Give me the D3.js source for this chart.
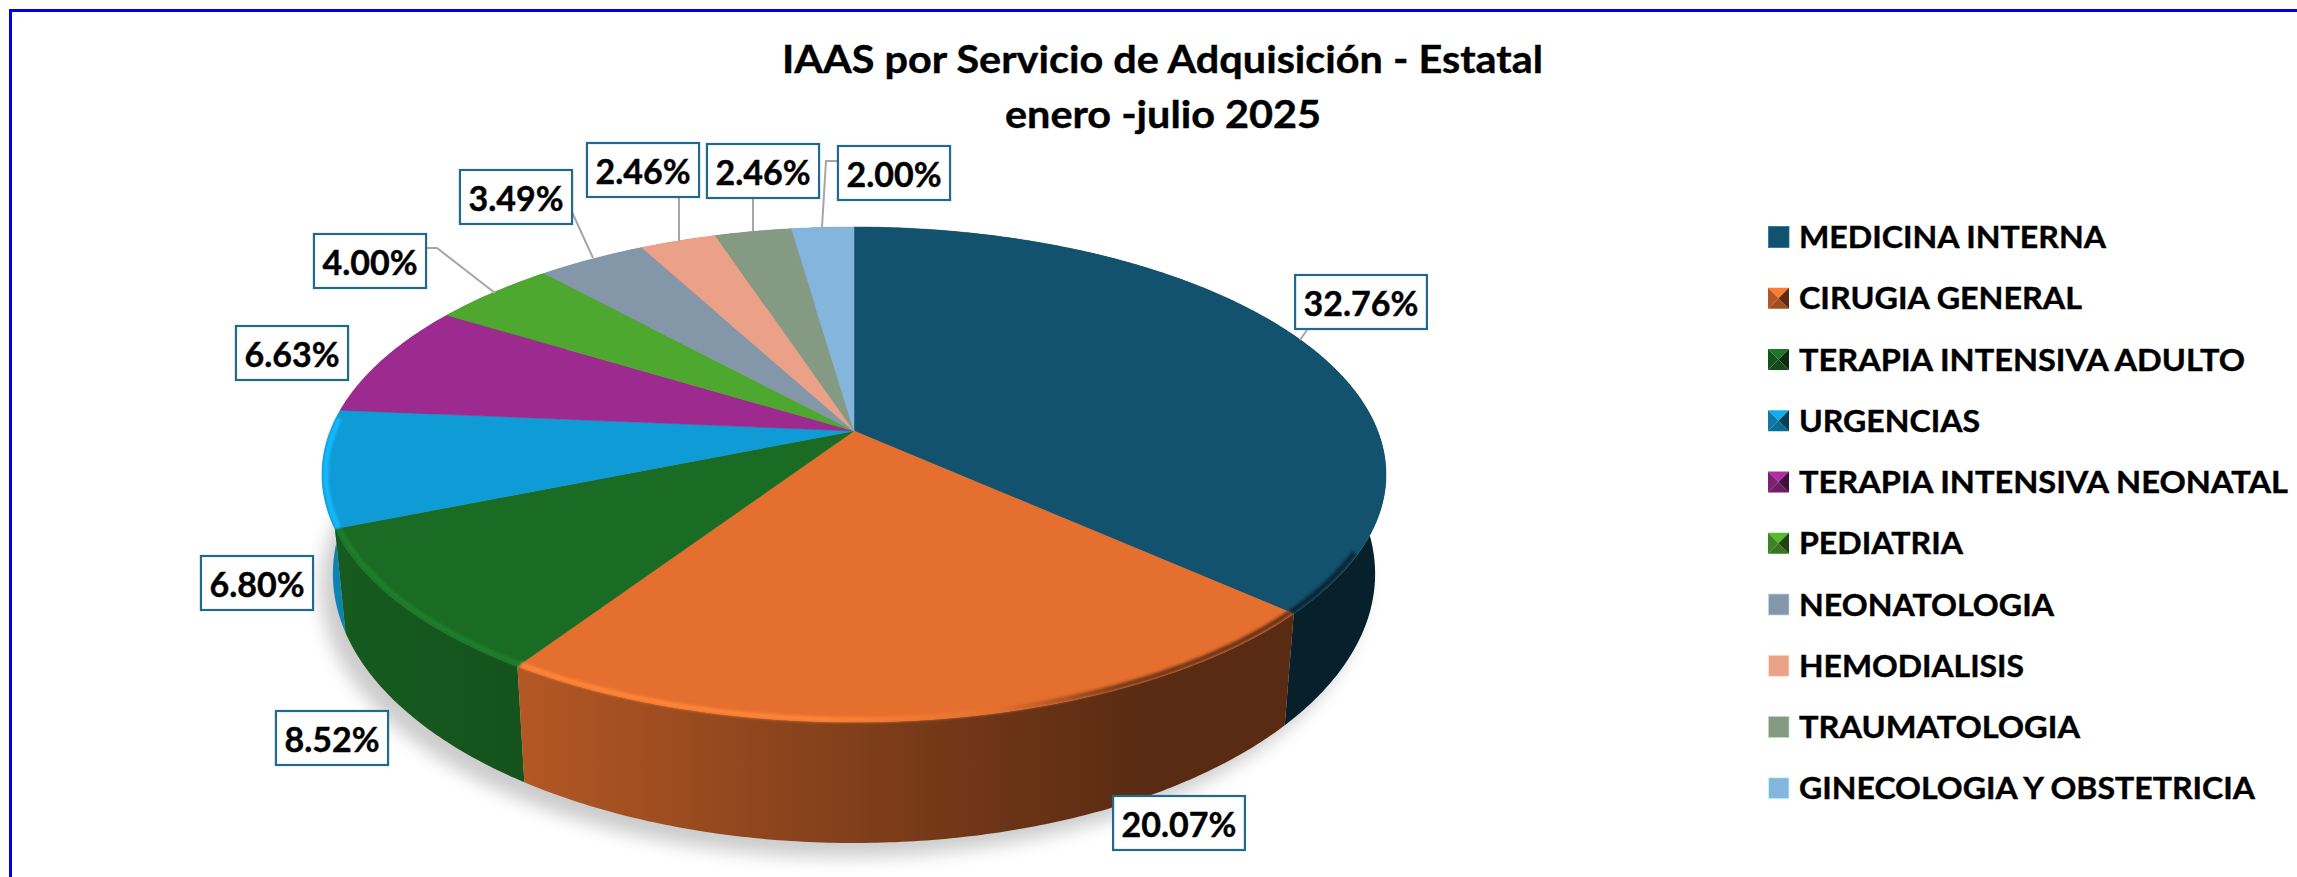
<!DOCTYPE html>
<html lang="es">
<head>
<meta charset="utf-8">
<title>IAAS por Servicio de Adquisición</title>
<script src="https://cdn.jsdelivr.net/npm/d3@7"></script>
<style>
  html, body { margin: 0; padding: 0; background: #fff; }
  svg { display: block; }
  text { font-family: "Lato", "Open Sans", sans-serif; font-weight: 700; fill: #000; stroke: #000; stroke-width: 0.4; }
</style>
</head>
<body>
<div id="chart"></div>
<script>
(function () {
  "use strict";

  const categories = [
    "MEDICINA INTERNA", "CIRUGIA GENERAL", "TERAPIA INTENSIVA ADULTO", "URGENCIAS",
    "TERAPIA INTENSIVA NEONATAL", "PEDIATRIA", "NEONATOLOGIA", "HEMODIALISIS",
    "TRAUMATOLOGIA", "GINECOLOGIA Y OBSTETRICIA"
  ];
  const values = [32.76, 20.07, 8.52, 6.80, 6.63, 4.00, 3.49, 2.46, 2.46, 2.00];
  const colors = [
    "#12526F", "#E56F2E", "#1A6B24", "#0F9BD5", "#9D2A8F",
    "#4EA72E", "#8497A8", "#EBA088", "#859A82", "#84B5DD"
  ];
  const titleLines = ["IAAS por Servicio de Adquisición - Estatal", "enero -julio 2025"];

  // Hand placed label boxes and leader lines, same order as the values
  const labelCenters = [
    [1361, 302], [1179, 823], [332, 738], [257, 583], [292, 353],
    [370, 261], [516, 197], [643, 170], [763, 171], [894, 173]
  ];
  const leaders = [
    [[1307, 330], [1300, 340]], null, null, null, null,
    [[425, 248], [437, 248], [495, 293]],
    [[572, 212], [593, 258]],
    [[679, 198], [679, 241]],
    [[753, 199], [753, 231]],
    [[839, 161], [826, 161], [822, 227]]
  ];
  const bevelledLegend = [1, 2, 3, 4, 5];
  const legendWidths = [307, 283, 446, 181, 489, 164, 255, 225, 281, 456];
  const titleWidths = [761, 316];

  const WIDTH = 2297;
  const HEIGHT = 877;
  const CENTER_X = 854;
  const PERSPECTIVE = 0.1758;
  const TOP_RING = { c: 523.7, a: 164.1, b: 431 };
  const BOTTOM_RING = { c: 513, a: 168.3, b: 526.5 };
  const LEGEND = { x: 1768, textX: 1799, y: 237, step: 61.25, size: 21 };

  // Circle seen in perspective: the centre sits above the middle of the ellipse
  function project(angle, radius, ring) {
    const u = radius * Math.sin(angle);
    const v = -radius * Math.cos(angle);
    const d = 1 - PERSPECTIVE * v;
    return [CENTER_X + ring.c * u / d, (ring.a * v + ring.b) / d];
  }

  function arcPoints(start, end, ring, radius = 1) {
    const steps = Math.max(2, Math.ceil((end - start) / 0.01));
    return d3.range(steps + 1).map(i => project(start + (end - start) * i / steps, radius, ring));
  }

  function scaled(color, k) {
    const c = d3.rgb(color);
    return d3.rgb(c.r * k, c.g * k, c.b * k).formatHex();
  }

  const svg = d3.select("#chart").append("svg")
    .attr("width", WIDTH)
    .attr("height", HEIGHT)
    .attr("viewBox", `0 0 ${WIDTH} ${HEIGHT}`);

  const defs = svg.append("defs");
  const line = d3.line();
  const slices = d3.pie().value(d => d).sort(null)(values);

  const softShadow = defs.append("filter").attr("id", "soft-shadow")
    .attr("x", "-10%").attr("y", "-10%").attr("width", "120%").attr("height", "130%");
  softShadow.append("feGaussianBlur").attr("stdDeviation", 9);
  const softRim = defs.append("filter").attr("id", "soft-rim")
    .attr("filterUnits", "userSpaceOnUse")
    .attr("x", 280).attr("y", 400).attr("width", 1150).attr("height", 360);
  softRim.append("feGaussianBlur").attr("stdDeviation", 1.6);

  // Wall shading runs left to right over the whole pie
  const wallStops = [[322, 0.85], [525, 0.78], [800, 0.6], [1000, 0.47], [1150, 0.39], [1387, 0.39]];
  const xPos = d3.scaleLinear().domain([322, 1387]).range([0, 100]);

  colors.forEach((color, i) => {
    const wall = defs.append("linearGradient").attr("id", `wall-${i}`)
      .attr("gradientUnits", "userSpaceOnUse")
      .attr("x1", 322).attr("x2", 1387).attr("y1", 0).attr("y2", 0);
    wallStops.forEach(([x, k]) => {
      wall.append("stop").attr("offset", `${xPos(x)}%`).attr("stop-color", scaled(color, k));
    });

    const rim = defs.append("linearGradient").attr("id", `rim-${i}`)
      .attr("gradientUnits", "userSpaceOnUse")
      .attr("x1", 322).attr("x2", 1387).attr("y1", 0).attr("y2", 0);
    [[322, d3.color(color).brighter(0.5)], [820, d3.color(color).brighter(0.5)],
      [1000, d3.color(color)], [1120, scaled(color, 0.5)], [1387, scaled(color, 0.39)]]
      .forEach(([x, c]) => {
        rim.append("stop").attr("offset", `${xPos(x)}%`).attr("stop-color", c);
      });
  });

  // Frame: only the top and left edges are in the crop
  svg.append("path")
    .attr("d", line([[WIDTH, 10.5], [10.5, 10.5], [10.5, HEIGHT]]))
    .attr("fill", "none")
    .attr("stroke", "#0000f0")
    .attr("stroke-width", 3);

  // Title
  svg.append("g").selectAll("text")
    .data(titleLines)
    .enter()
    .append("text")
    .attr("x", (d, i) => i === 0 ? 782 : 1005)
    .attr("y", (d, i) => i === 0 ? 73 : 128)
    .attr("font-size", 38)
    .attr("textLength", (d, i) => titleWidths[i])
    .attr("lengthAdjust", "spacingAndGlyphs")
    .text(d => d);

  // Shadow under the pie
  svg.append("path")
    .attr("d", line(arcPoints(0, 2 * Math.PI, BOTTOM_RING)) + "Z")
    .attr("transform", "translate(-12,14)")
    .attr("fill", "#000")
    .attr("opacity", 0.2)
    .attr("filter", "url(#soft-shadow)");

  // Side walls, back to front
  const pie3d = svg.append("g");
  slices
    .map((s, i) => ({ s, i }))
    .sort((a, b) => -Math.cos((a.s.startAngle + a.s.endAngle) / 2) + Math.cos((b.s.startAngle + b.s.endAngle) / 2))
    .forEach(({ s, i }) => {
      const outline = arcPoints(s.startAngle, s.endAngle, TOP_RING)
        .concat(arcPoints(s.startAngle, s.endAngle, BOTTOM_RING).reverse());
      pie3d.append("path")
        .attr("d", line(outline) + "Z")
        .attr("fill", `url(#wall-${i})`);
    });

  // Top faces
  pie3d.append("g").selectAll("path")
    .data(slices)
    .enter()
    .append("path")
    .attr("d", d => line([project(0, 0, TOP_RING)].concat(arcPoints(d.startAngle, d.endAngle, TOP_RING))) + "Z")
    .attr("fill", (d, i) => colors[i])
    .attr("stroke", (d, i) => colors[i])
    .attr("stroke-width", 0.5);

  // Bevel along the front rim, kept just inside the edge
  const rimStart = 118 * Math.PI / 180;
  const rimEnd = 273 * Math.PI / 180;
  pie3d.append("g").selectAll("path")
    .data(slices.filter(d => d.endAngle > rimStart && d.startAngle < rimEnd))
    .enter()
    .append("path")
    .attr("d", d => line(arcPoints(Math.max(d.startAngle, rimStart), Math.min(d.endAngle, rimEnd), TOP_RING, 0.993)))
    .attr("fill", "none")
    .attr("stroke", d => `url(#rim-${d.index})`)
    .attr("stroke-width", 5)
    .attr("filter", "url(#soft-rim)");

  // Leader lines
  svg.append("g").selectAll("path")
    .data(leaders.filter(d => d))
    .enter()
    .append("path")
    .attr("d", d => line(d))
    .attr("fill", "none")
    .attr("stroke", "#a6a6a6")
    .attr("stroke-width", 2);

  // Data labels
  const labels = svg.append("g").selectAll("g")
    .data(values)
    .enter()
    .append("g")
    .attr("transform", (d, i) => `translate(${labelCenters[i]})`);

  const labelRects = labels.append("rect")
    .attr("y", -27)
    .attr("height", 54)
    .attr("fill", "#fff")
    .attr("stroke", "#1F6A8E")
    .attr("stroke-width", 2.2);

  const labelTexts = labels.append("text")
    .attr("y", 13.5)
    .attr("text-anchor", "middle")
    .attr("font-size", 34)
    .text(d => `${d.toFixed(2)}%`);

  labelRects.each(function (d, i) {
    const w = labelTexts.nodes()[i].getComputedTextLength() + 17;
    d3.select(this).attr("x", -w / 2).attr("width", w);
  });

  // Legend
  const legend = svg.append("g").selectAll("g")
    .data(categories)
    .enter()
    .append("g")
    .attr("transform", (d, i) => `translate(0,${LEGEND.y + i * LEGEND.step})`);

  legend.append("text")
    .attr("x", LEGEND.textX)
    .attr("y", 11)
    .attr("font-size", 30.5)
    .attr("textLength", (d, i) => legendWidths[i])
    .attr("lengthAdjust", "spacingAndGlyphs")
    .text(d => d);

  legend.each(function (d, i) {
    const g = d3.select(this);
    const x0 = LEGEND.x;
    const x1 = LEGEND.x + LEGEND.size;
    const y0 = -LEGEND.size / 2;
    const y1 = LEGEND.size / 2;
    if (!bevelledLegend.includes(i)) {
      g.append("rect")
        .attr("x", x0 + 0.5).attr("y", y0)
        .attr("width", LEGEND.size - 0.5).attr("height", LEGEND.size)
        .attr("fill", colors[i])
        .attr("stroke", d3.color(colors[i]).brighter(1).formatHex())
        .attr("stroke-width", 0.8);
      return;
    }
    const mid = [(x0 + x1) / 2, 0];
    const faces = [
      [[[x0, y0], [x1, y0], mid], d3.color(colors[i]).brighter(0.3).formatHex()],
      [[[x0, y1], [x1, y1], mid], scaled(colors[i], 0.7)],
      [[[x0, y0], [x0, y1], mid], scaled(colors[i], 0.78)],
      [[[x1, y0], [x1, y1], mid], scaled(colors[i], 0.4)]
    ];
    g.selectAll("path")
      .data(faces)
      .enter()
      .append("path")
      .attr("d", f => line(f[0]) + "Z")
      .attr("fill", f => f[1]);
  });
})();
</script>
</body>
</html>
